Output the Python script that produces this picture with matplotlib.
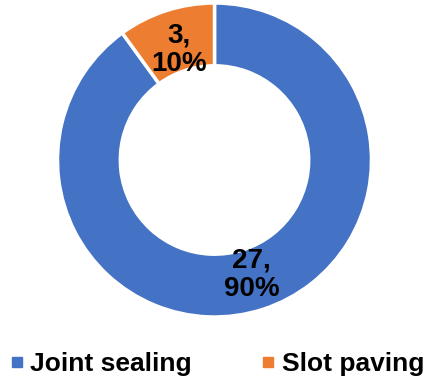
import numpy as np
import matplotlib.pyplot as plt
from matplotlib.lines import Line2D

plt.rcParams['font.family'] = ['Liberation Sans', 'DejaVu Sans']

categories = ['Joint sealing', 'Slot paving']
counts = [27, 3]
colors = ['#4472C4', '#ED7D31']

fig = plt.figure(figsize=(4.33, 3.81), dpi=100)
# donut axes, centre at about (214, 160) px, radius 157 px
ax = fig.add_axes([57.5 / 433, 64 / 381, 314 / 433, 314 / 381])

total = sum(counts)

wedges, texts = ax.pie(counts, colors=colors, startangle=90, counterclock=False,
                       radius=1.0, wedgeprops=dict(width=0.4, edgecolor='white', linewidth=2.5))

# value labels on the ring
for w, n, r in zip(wedges, counts, [0.77, 0.74]):
    mid = np.deg2rad((w.theta1 + w.theta2) / 2)
    pct = n / total * 100
    ax.text(r * np.cos(mid), r * np.sin(mid), f"{n},\n{pct:.0f}%",
            ha='center', va='center', fontsize=20, fontweight='bold',
            linespacing=1.12, color='black')

ax.set_xlim(-1, 1)
ax.set_ylim(-1, 1)
ax.set_aspect('equal')
ax.axis('off')

handles = [Line2D([0], [0], marker='s', linestyle='', markersize=7,
                  markerfacecolor=c, markeredgecolor=c) for c in colors]
fig.legend(handles, categories, loc='center', bbox_to_anchor=(0.5, 1 - 364 / 381),
           ncol=2, frameon=False, prop=dict(size=19, weight='bold'),
           handletextpad=0.2, columnspacing=2.6, handlelength=0.6)

fig.savefig('out.png', dpi=100)
